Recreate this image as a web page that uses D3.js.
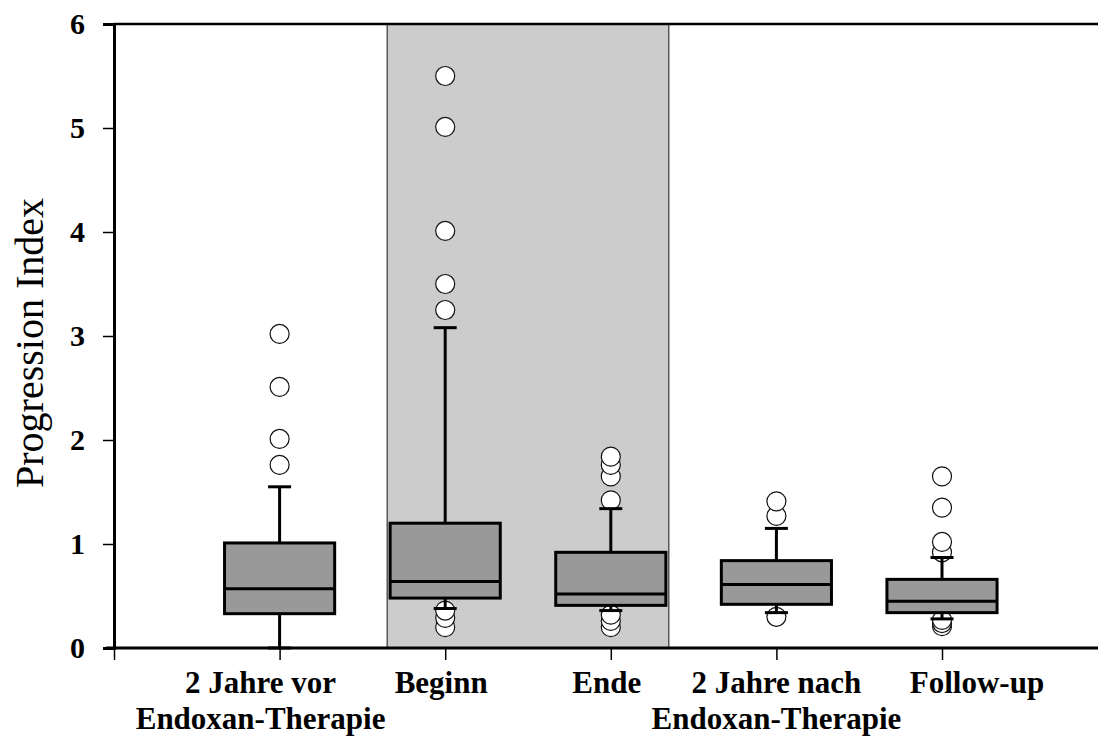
<!DOCTYPE html>
<html>
<head>
<meta charset="utf-8">
<script src="https://cdn.jsdelivr.net/npm/d3@7"></script>
<style>
  html, body { margin: 0; padding: 0; background: #ffffff; }
  svg { display: block; }
  text { font-family: "Liberation Serif", "Times New Roman", Times, serif; fill: #000; }
</style>
</head>
<body>
<svg id="chart" width="1098" height="738"></svg>
<script>
// Progression index per time point (box plot statistics)
const categories = [
  ["2 Jahre vor", "Endoxan-Therapie"],
  ["Beginn"],
  ["Ende"],
  ["2 Jahre nach", "Endoxan-Therapie"],
  ["Follow-up"]
];
const whiskerLow  = [0.00, 0.38, 0.36, 0.34, 0.28];
const quartile1   = [0.33, 0.48, 0.41, 0.42, 0.34];
const medians     = [0.57, 0.64, 0.52, 0.61, 0.45];
const quartile3   = [1.01, 1.20, 0.92, 0.84, 0.66];
const whiskerHigh = [1.55, 3.08, 1.34, 1.15, 0.87];
const outliers = [
  [1.76, 2.01, 2.51, 3.02],
  [0.20, 0.29, 0.36, 3.25, 3.50, 4.01, 5.01, 5.50],
  [0.20, 0.26, 0.32, 1.42, 1.65, 1.76, 1.84],
  [0.30, 1.27, 1.41],
  [0.21, 0.24, 0.27, 0.92, 1.02, 1.35, 1.65]
];
const yTicks = [0, 1, 2, 3, 4, 5, 6];
// therapy period (Beginn .. Ende) shaded on the category axis
const therapySpan = [1.65, 3.35];

const W = 1098, H = 738;
const svg = d3.select("#chart");

const x = d3.scaleLinear().domain([0, 6]).range([114, 114 + 6 * 165.6]);
const y = d3.scaleLinear().domain([0, 6]).range([648, 24]);

const boxW = x(0.665) - x(0);
const capW = 23;
const labelShift = [-19, -4, -4, 0, 35];

// shaded therapy period
svg.append("rect")
  .attr("x", x(therapySpan[0]))
  .attr("y", y(6))
  .attr("width", x(therapySpan[1]) - x(therapySpan[0]))
  .attr("height", y(0) - y(6))
  .attr("fill", "#cccccc")
  .attr("stroke", "none");
[therapySpan[0], therapySpan[1]].forEach(v => {
  svg.append("line")
    .attr("x1", x(v)).attr("x2", x(v))
    .attr("y1", y(6)).attr("y2", y(0))
    .attr("stroke", "#555").attr("stroke-width", 1.5);
});

// top frame line
svg.append("line")
  .attr("x1", x(0)).attr("x2", W)
  .attr("y1", y(6)).attr("y2", y(6))
  .attr("stroke", "#000").attr("stroke-width", 2.5);

const g = svg.append("g");

// outliers (drawn beneath whiskers and boxes)
outliers.forEach((vals, i) => {
  g.selectAll(null).data(vals).enter().append("circle")
    .attr("cx", x(i + 1))
    .attr("cy", d => y(d))
    .attr("r", 9.5)
    .attr("fill", "#ffffff")
    .attr("stroke", "#111")
    .attr("stroke-width", 1.2);
});

categories.forEach((c, i) => {
  const cx = x(i + 1);
  // whiskers
  g.append("line")
    .attr("x1", cx).attr("x2", cx)
    .attr("y1", y(quartile3[i])).attr("y2", y(whiskerHigh[i]))
    .attr("stroke", "#000").attr("stroke-width", 3);
  g.append("line")
    .attr("x1", cx).attr("x2", cx)
    .attr("y1", y(quartile1[i])).attr("y2", y(whiskerLow[i]))
    .attr("stroke", "#000").attr("stroke-width", 3);
  [whiskerHigh[i], whiskerLow[i]].forEach(v => {
    g.append("line")
      .attr("x1", cx - capW / 2).attr("x2", cx + capW / 2)
      .attr("y1", y(v)).attr("y2", y(v))
      .attr("stroke", "#000").attr("stroke-width", 3);
  });
  // box
  g.append("rect")
    .attr("x", cx - boxW / 2)
    .attr("y", y(quartile3[i]))
    .attr("width", boxW)
    .attr("height", y(quartile1[i]) - y(quartile3[i]))
    .attr("fill", "#999999")
    .attr("stroke", "#000")
    .attr("stroke-width", 3);
  // median
  g.append("line")
    .attr("x1", cx - boxW / 2).attr("x2", cx + boxW / 2)
    .attr("y1", y(medians[i])).attr("y2", y(medians[i]))
    .attr("stroke", "#000").attr("stroke-width", 3);
});

// y axis
const yAxis = svg.append("g")
  .attr("transform", `translate(${x(0)},0)`)
  .call(d3.axisLeft(y).tickValues(yTicks).tickSize(11).tickPadding(18).tickFormat(d3.format("d")));
yAxis.select(".domain").attr("stroke", "#000").attr("stroke-width", 3);
yAxis.selectAll(".tick line").attr("stroke", "#000").attr("stroke-width", 1.5);
yAxis.selectAll(".tick text")
  .attr("font-size", 30).attr("font-weight", "bold")
  .attr("font-family", "'Liberation Serif', 'Times New Roman', serif")
  .attr("fill", "#000");

// x axis
const xAxis = svg.append("g")
  .attr("transform", `translate(0,${y(0)})`)
  .call(d3.axisBottom(x).tickValues([0, 1, 2, 3, 4, 5]).tickSize(12).tickFormat(""));
xAxis.select(".domain").remove();
xAxis.selectAll(".tick line").attr("stroke", "#000").attr("stroke-width", 1.5);
svg.append("line")
  .attr("x1", x(0) - 8).attr("x2", W)
  .attr("y1", y(0)).attr("y2", y(0))
  .attr("stroke", "#000").attr("stroke-width", 3);

// category labels
categories.forEach((lines, i) => {
  const t = svg.append("text")
    .attr("x", x(i + 1) + labelShift[i])
    .attr("y", 693)
    .attr("text-anchor", "middle")
    .attr("font-size", 31)
    .attr("font-weight", "bold");
  lines.forEach((ln, k) => {
    t.append("tspan")
      .attr("x", x(i + 1) + labelShift[i])
      .attr("dy", k === 0 ? 0 : 36)
      .text(ln);
  });
});

// y axis title
svg.append("text")
  .attr("transform", "translate(43,343) rotate(-90)")
  .attr("text-anchor", "middle")
  .attr("font-size", 40)
  .text("Progression Index");
</script>
</body>
</html>
